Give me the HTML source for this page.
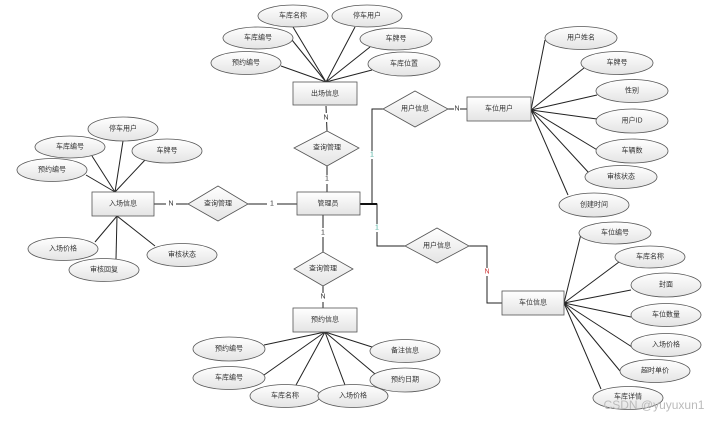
<!DOCTYPE html>
<html><head><meta charset="utf-8"><style>
html,body{margin:0;padding:0;background:#fff;}
svg{display:block;}
text{font-family:"Liberation Sans","Noto Sans CJK SC",sans-serif;font-size:7px;fill:#333;text-anchor:middle;dominant-baseline:central;}
.l{stroke:#222;stroke-width:1;fill:none;}
.s{stroke:#555;stroke-width:0.8;fill:url(#g);}
</style></head><body>
<svg width="724" height="422" viewBox="0 0 724 422" xmlns="http://www.w3.org/2000/svg">
<defs><linearGradient id="g" x1="0" y1="0" x2="0" y2="1"><stop offset="0" stop-color="#ffffff"/><stop offset="1" stop-color="#e4e4e4"/></linearGradient></defs>
<g class="l">
<!-- top group -->
<line x1="326" y1="82" x2="293" y2="27"/><line x1="326" y1="82" x2="355" y2="27"/>
<line x1="326" y1="82" x2="292" y2="40"/><line x1="326" y1="82" x2="370" y2="47"/>
<line x1="326" y1="82" x2="281" y2="66"/><line x1="326" y1="82" x2="372" y2="70"/>
<!-- left group -->
<line x1="115" y1="192" x2="123" y2="141"/><line x1="115" y1="192" x2="92" y2="156"/>
<line x1="115" y1="192" x2="145" y2="160"/><line x1="115" y1="192" x2="86" y2="175"/>
<line x1="117" y1="216" x2="95" y2="242"/><line x1="117" y1="216" x2="116" y2="259"/>
<line x1="117" y1="216" x2="155" y2="246"/>
<!-- right top -->
<line x1="531" y1="110" x2="545" y2="40"/><line x1="531" y1="110" x2="584" y2="68"/>
<line x1="531" y1="110" x2="597" y2="95"/><line x1="531" y1="110" x2="597" y2="119"/>
<line x1="531" y1="110" x2="599" y2="151"/><line x1="531" y1="110" x2="589" y2="173"/>
<line x1="531" y1="110" x2="568" y2="195"/>
<!-- right bottom -->
<line x1="564" y1="303" x2="581" y2="234"/><line x1="564" y1="303" x2="619" y2="262"/>
<line x1="564" y1="303" x2="631" y2="290"/><line x1="564" y1="303" x2="631" y2="317"/>
<line x1="564" y1="303" x2="632" y2="347"/><line x1="564" y1="303" x2="620" y2="371"/>
<line x1="564" y1="303" x2="601" y2="389"/>
<!-- bottom -->
<line x1="325" y1="332" x2="264" y2="345"/><line x1="325" y1="332" x2="264" y2="375"/>
<line x1="325" y1="332" x2="296" y2="385"/><line x1="325" y1="332" x2="345" y2="385"/>
<line x1="325" y1="332" x2="372" y2="347"/><line x1="325" y1="332" x2="375" y2="374"/>
<!-- connectors -->
<line x1="326" y1="106" x2="327" y2="131"/><line x1="327" y1="166" x2="327" y2="192"/>
<line x1="323" y1="215" x2="323" y2="252"/><line x1="323" y1="286" x2="323" y2="308"/>
<line x1="248" y1="204" x2="297" y2="204"/><line x1="154" y1="204" x2="188" y2="204"/>
<polyline points="360,204 372,204 372,109 383,109"/>
<line x1="448" y1="109" x2="467" y2="109"/>
<polyline points="360,204 377,204 377,246 405,246"/>
<polyline points="469,246 487,246 487,303 502,303"/>
</g>
<line x1="360" y1="204" x2="377" y2="204" stroke="#111" stroke-width="2"/>
<!-- labels on connectors -->
<g style="font-size:8px">
<rect x="321" y="113" width="10" height="9" fill="#fff"/><text x="326" y="118">N</text>
<rect x="322" y="175" width="10" height="9" fill="#fff"/><text x="327" y="179">1</text>
<rect x="318" y="228" width="10" height="9" fill="#fff"/><text x="323" y="233">1</text>
<rect x="318" y="293" width="10" height="9" fill="#fff"/><text x="323" y="297">N</text>
<rect x="267" y="200" width="10" height="9" fill="#fff"/><text x="272" y="204">1</text>
<rect x="166" y="200" width="10" height="9" fill="#fff"/><text x="171" y="204">N</text>
</g>
<g style="font-size:6px">
<rect x="369" y="151" width="6" height="8" fill="#fff"/><text x="372" y="155" style="fill:#4a9">1</text>
<rect x="454" y="105" width="6" height="8" fill="#fff"/><text x="457" y="109">N</text>
<rect x="374" y="224" width="6" height="8" fill="#fff"/><text x="377" y="228" style="fill:#4a9">1</text>
<rect x="484" y="268" width="6" height="8" fill="#fff"/><text x="487" y="272" style="fill:#c33">N</text>
</g>
<!-- entities -->
<g class="s">
<rect x="293" y="82" width="64" height="23"/><rect x="297" y="192" width="63" height="23"/>
<rect x="92" y="192" width="62" height="24"/><rect x="467" y="97" width="64" height="24"/>
<rect x="502" y="291" width="62" height="24"/><rect x="293" y="308" width="64" height="24"/>
<polygon points="294,148 327,131 359,148 327,166"/>
<polygon points="188,204 218,186 248,204 218,221"/>
<polygon points="383,109 415,91 448,109 415,127"/>
<polygon points="405,246 437,228 469,246 437,263"/>
<polygon points="294,269 323,252 353,269 323,286"/>
</g>
<text x="325" y="94">出场信息</text><text x="328" y="204">管理员</text>
<text x="123" y="204">入场信息</text><text x="499" y="109">车位用户</text>
<text x="533" y="303">车位信息</text><text x="325" y="320">预约信息</text>
<text x="327" y="148">查询管理</text><text x="218" y="204">查询管理</text>
<text x="415" y="109">用户信息</text><text x="437" y="246">用户信息</text>
<text x="323" y="269">查询管理</text>
<!-- attributes -->
<g class="s">
<ellipse cx="293" cy="16" rx="35" ry="11"/><ellipse cx="367" cy="16" rx="35" ry="11"/>
<ellipse cx="258" cy="38" rx="35" ry="11"/><ellipse cx="396" cy="39" rx="36" ry="11"/>
<ellipse cx="246" cy="63" rx="35" ry="11.5"/><ellipse cx="404" cy="64" rx="36" ry="12"/>
<ellipse cx="123" cy="129" rx="35" ry="12"/><ellipse cx="70" cy="147" rx="35" ry="11"/>
<ellipse cx="167" cy="151" rx="35" ry="12"/><ellipse cx="52" cy="170" rx="35" ry="11.5"/>
<ellipse cx="63" cy="249" rx="35" ry="11.5"/><ellipse cx="104" cy="270" rx="35" ry="11.5"/>
<ellipse cx="182" cy="255" rx="35" ry="11.5"/>
<ellipse cx="581" cy="38" rx="36" ry="11.5"/><ellipse cx="617" cy="63" rx="36" ry="11.5"/>
<ellipse cx="632" cy="91" rx="36" ry="11.5"/><ellipse cx="632" cy="121" rx="36" ry="12"/>
<ellipse cx="632" cy="151" rx="36" ry="12"/><ellipse cx="621" cy="177" rx="36" ry="11.5"/>
<ellipse cx="594" cy="205" rx="35" ry="12"/>
<ellipse cx="615" cy="233" rx="36" ry="11"/><ellipse cx="650" cy="257" rx="35" ry="11"/>
<ellipse cx="666" cy="285" rx="35" ry="12"/><ellipse cx="666" cy="315" rx="35" ry="11.5"/>
<ellipse cx="666" cy="345" rx="35" ry="11.5"/><ellipse cx="655" cy="371" rx="35" ry="11.5"/>
<ellipse cx="628" cy="398" rx="35" ry="11.5"/>
<ellipse cx="229" cy="349" rx="36" ry="12"/><ellipse cx="229" cy="378" rx="36" ry="11.5"/>
<ellipse cx="285" cy="396" rx="35" ry="11.5"/><ellipse cx="353" cy="396" rx="35" ry="11.5"/>
<ellipse cx="405" cy="351" rx="35" ry="11.5"/><ellipse cx="405" cy="380" rx="35" ry="12"/>
</g>
<text x="293" y="16">车库名称</text><text x="367" y="16">停车用户</text>
<text x="258" y="38">车库编号</text><text x="396" y="39">车牌号</text>
<text x="246" y="63">预约编号</text><text x="404" y="64">车库位置</text>
<text x="123" y="129">停车用户</text><text x="70" y="147">车库编号</text>
<text x="167" y="151">车牌号</text><text x="52" y="170">预约编号</text>
<text x="63" y="249">入场价格</text><text x="104" y="270">审核回复</text>
<text x="182" y="255">审核状态</text>
<text x="581" y="38">用户姓名</text><text x="617" y="63">车牌号</text>
<text x="632" y="91">性别</text><text x="632" y="121">用户ID</text>
<text x="632" y="151">车辆数</text><text x="621" y="177">审核状态</text>
<text x="594" y="205">创建时间</text>
<text x="615" y="233">车位编号</text><text x="650" y="257">车库名称</text>
<text x="666" y="285">封面</text><text x="666" y="315">车位数量</text>
<text x="666" y="345">入场价格</text><text x="655" y="371">超时单价</text>
<text x="628" y="397">车库详情</text>
<text x="229" y="349">预约编号</text><text x="229" y="378">车库编号</text>
<text x="285" y="396">车库名称</text><text x="353" y="396">入场价格</text>
<text x="405" y="351">备注信息</text><text x="405" y="380">预约日期</text>
<text x="654" y="405" style="font-size:12px;fill:#bbb;">CSDN @yuyuxun1</text>
</svg>
</body></html>
